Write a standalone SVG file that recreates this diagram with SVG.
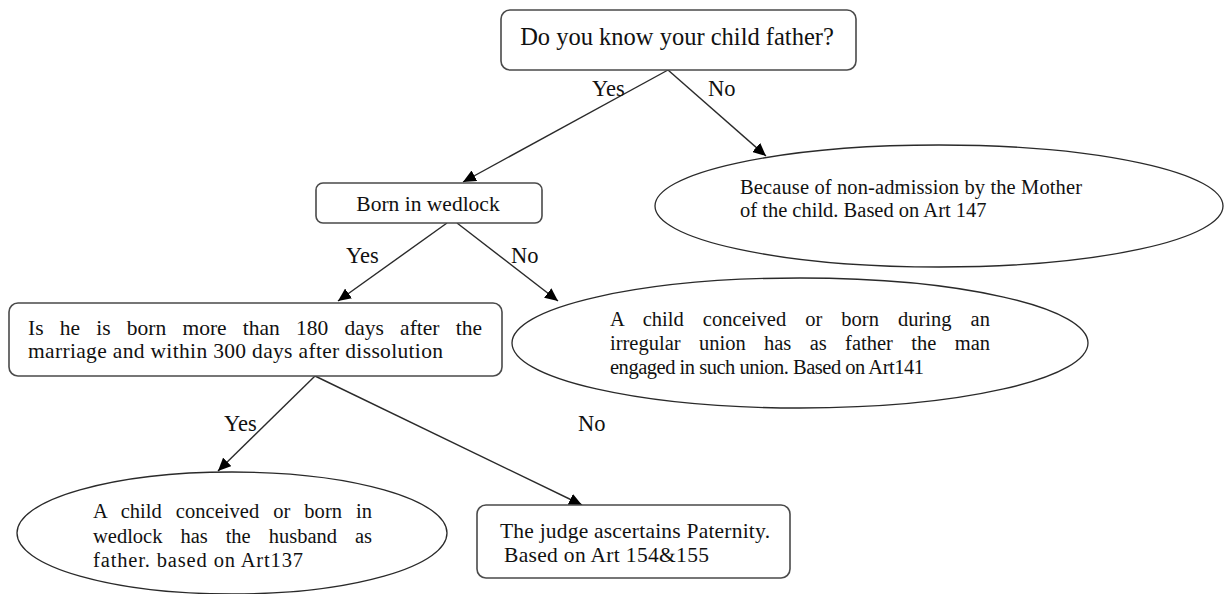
<svg xmlns="http://www.w3.org/2000/svg" width="1224" height="594" viewBox="0 0 1224 594">
  <style>
    .box { fill: #ffffff; stroke: #4a4a4a; stroke-width: 1.6; }
    .oval { fill: #ffffff; stroke: #2a2a2a; stroke-width: 1.3; }
    .edge { fill: none; stroke: #2a2a2a; stroke-width: 1.4; marker-end: url(#arrow); }
    text { font-family: "Liberation Serif", "Times New Roman", serif; fill: #111111; }
    .t { font-size: 20.5px; }
    .lbl { font-size: 22.5px; }
  </style>
  <defs>
    <marker id="arrow" markerUnits="userSpaceOnUse" markerWidth="14" markerHeight="12" refX="13" refY="6" orient="auto">
      <path d="M0,0 L13,6 L0,12 z" fill="#000000"/>
    </marker>
  </defs>
  <rect width="1224" height="594" fill="#ffffff"/>

  <!-- connectors -->
  <g id="connectors">
    <line class="edge" x1="668" y1="70" x2="463" y2="182"/>
    <line class="edge" x1="668" y1="70" x2="766" y2="156"/>
    <line class="edge" x1="447" y1="223" x2="338" y2="301"/>
    <line class="edge" x1="457" y1="223" x2="558" y2="301"/>
    <line class="edge" x1="315" y1="376" x2="218" y2="471"/>
    <line class="edge" x1="315" y1="376" x2="582" y2="505"/>
    <text class="lbl" x="592" y="96">Yes</text>
    <text class="lbl" x="708" y="96">No</text>
    <text class="lbl" x="346" y="263">Yes</text>
    <text class="lbl" x="511" y="263">No</text>
    <text class="lbl" x="224" y="431">Yes</text>
    <text class="lbl" x="578" y="431">No</text>
  </g>

  <!-- question: known father -->
  <g id="q-father">
    <rect class="box" x="501" y="10" width="355" height="60" rx="9"/>
    <text x="677" y="45" font-size="24.5" text-anchor="middle">Do you know your child father?</text>
  </g>

  <!-- outcome: non-admission -->
  <g id="r-nonadmission">
    <ellipse class="oval" cx="939" cy="206" rx="284" ry="61"/>
    <text class="t" x="740" y="194" textLength="342" lengthAdjust="spacing">Because  of non-admission by the Mother</text>
    <text class="t" x="740" y="217">of the child.  Based on Art 147</text>
  </g>

  <!-- question: wedlock -->
  <g id="q-wedlock">
    <rect class="box" x="316" y="183" width="226" height="40" rx="7"/>
    <text x="428" y="211" font-size="21.5" text-anchor="middle">Born in wedlock</text>
  </g>

  <!-- outcome: irregular union -->
  <g id="r-irregular">
    <ellipse class="oval" cx="800" cy="343" rx="288" ry="65"/>
    <text class="t" x="610" y="326" word-spacing="13.8" textLength="380" lengthAdjust="spacing">A child conceived or born during an</text>
    <text class="t" x="610" y="350" word-spacing="13.2" textLength="380" lengthAdjust="spacing">irregular union has as father the man</text>
    <text class="t" x="610" y="374" textLength="314" lengthAdjust="spacing">engaged in such union. Based on Art141</text>
  </g>

  <!-- question: 180 / 300 days -->
  <g id="q-days">
    <rect class="box" x="9" y="303" width="493" height="73" rx="9"/>
    <text x="28" y="335" font-size="21.5" word-spacing="10.8" textLength="454" lengthAdjust="spacing">Is he is born more than 180 days after the</text>
    <text x="28" y="358" font-size="21.5" textLength="415" lengthAdjust="spacing">marriage and within 300 days after dissolution</text>
  </g>

  <!-- outcome: husband as father -->
  <g id="r-husband">
    <ellipse class="oval" cx="232" cy="533" rx="215" ry="61"/>
    <text class="t" x="93" y="518" word-spacing="8.8" textLength="279" lengthAdjust="spacing">A child conceived or born in</text>
    <text class="t" x="93" y="543" word-spacing="12.8" textLength="279" lengthAdjust="spacing">wedlock has the husband as</text>
    <text class="t" x="93" y="567" textLength="210" lengthAdjust="spacing">father. based on Art137</text>
  </g>

  <!-- outcome: judge -->
  <g id="r-judge">
    <rect class="box" x="477" y="505" width="313" height="73" rx="9"/>
    <text x="500" y="538" font-size="21.5" textLength="270" lengthAdjust="spacing">The judge ascertains Paternity.</text>
    <text x="504" y="562" font-size="21.5" textLength="205" lengthAdjust="spacing">Based on Art 154&amp;155</text>
  </g>
</svg>
